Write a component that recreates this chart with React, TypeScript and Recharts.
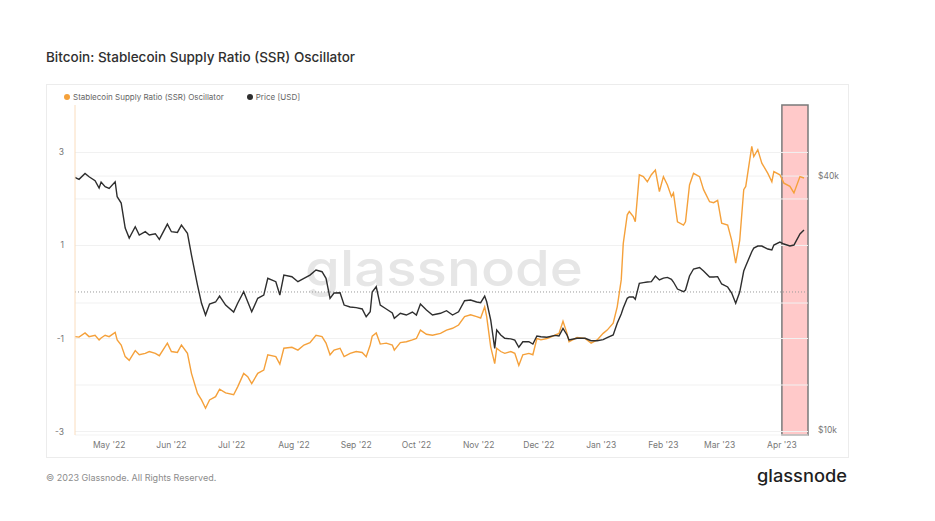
import React from 'react';
import { LineChart, Line, XAxis, YAxis, ReferenceLine, ReferenceArea } from 'recharts';

const START = Date.UTC(2022, 3, 14);
const DAY = 86400000;

// sample days, counted from 14 Apr 2022
const dayOffsets = [
  0, 2, 5, 7, 10, 12, 13, 15, 17, 20,
  21, 23, 25, 27, 30, 32, 35, 37, 40, 42,
  46, 48, 51, 53, 56, 58, 61, 63, 65, 67,
  70, 72, 75, 79, 81, 84, 86, 88, 91, 94,
  96, 100, 102, 104, 108, 111, 114, 117, 120, 123,
  125, 127, 129, 132, 134, 137, 140, 143, 145, 147,
  148, 150, 152, 155, 158, 159, 162, 165, 168, 170,
  172, 175, 178, 182, 185, 188, 191, 194, 197, 200,
  202, 204, 205, 207, 209, 210, 212, 214, 217, 219,
  221, 223, 226, 228, 230, 232, 235, 239, 241, 243,
  245, 246, 250, 254, 257, 260, 263, 265, 268, 270,
  272, 273, 275, 276, 278, 279, 281, 283, 285, 287,
  289, 291, 293, 295, 297, 298, 300, 303, 304, 306,
  308, 311, 313, 316, 318, 320, 322, 325, 327, 329,
  331, 333, 334, 337, 338, 340, 342, 345, 347, 348,
  351, 353, 356, 358, 361, 363,
];

const ssrValues = [
  -0.96, -0.97, -0.88, -0.96, -0.93, -1.03, -0.99, -0.93, -0.96, -0.87,
  -1.03, -1.14, -1.39, -1.47, -1.26, -1.35, -1.32, -1.28, -1.32, -1.37,
  -1.10, -1.28, -1.30, -1.14, -1.32, -1.75, -2.18, -2.32, -2.50, -2.32,
  -2.25, -2.09, -2.17, -2.21, -2.04, -1.75, -1.82, -1.97, -1.75, -1.68,
  -1.35, -1.39, -1.55, -1.21, -1.19, -1.25, -1.14, -1.09, -0.93, -0.96,
  -1.10, -1.35, -1.25, -1.21, -1.39, -1.32, -1.28, -1.30, -1.39, -1.14,
  -0.95, -0.88, -1.12, -1.10, -1.14, -1.25, -1.09, -1.07, -1.03, -1.00,
  -0.82, -0.91, -0.93, -0.89, -0.82, -0.78, -0.71, -0.53, -0.49, -0.53,
  -0.56, -0.32, -0.53, -1.18, -1.54, -1.21, -1.28, -1.32, -1.28, -1.32,
  -1.58, -1.35, -1.32, -1.35, -1.00, -1.03, -1.00, -0.93, -0.89, -0.63,
  -0.89, -1.07, -0.98, -1.00, -1.10, -1.03, -0.89, -0.82, -0.67, -0.32,
  0.26, 1.04, 1.66, 1.73, 1.62, 1.51, 2.52, 2.48, 2.37, 2.52,
  2.62, 2.16, 2.48, 2.30, 2.05, 2.13, 1.51, 1.44, 1.51, 2.30,
  2.55, 2.48, 2.20, 1.94, 1.92, 1.97, 1.48, 1.44, 1.11, 0.62,
  1.11, 2.20, 2.27, 3.13, 2.91, 3.06, 2.77, 2.55, 2.37, 2.59,
  2.52, 2.34, 2.27, 2.13, 2.48, 2.45,
];

const priceValues = [
  39700, 39290, 40590, 39850, 38990, 37460, 38710, 37730, 37400, 38780,
  35730, 34520, 30120, 28520, 30330, 28990, 29520, 28990, 29200, 28320,
  30780, 29520, 29400, 30610, 29260, 25990, 22060, 19970, 18730, 19890,
  20110, 20780, 19780, 19040, 19970, 21270, 20140, 19070, 20520, 20890,
  22890, 22470, 20890, 23300, 23090, 22470, 22890, 23300, 23950, 23730,
  22890, 20520, 21120, 21150, 19780, 19570, 19500, 19360, 18560, 19070,
  21240, 21860, 19780, 19360, 18940, 18400, 18910, 18730, 19040, 18730,
  19890, 19250, 18730, 18910, 19180, 18730, 19070, 20250, 20330, 20110,
  20040, 20780, 20140, 18230, 15620, 17260, 16800, 16500, 16440, 16340,
  15710, 16190, 16190, 15990, 16700, 16640, 16590, 16760, 16700, 17420,
  16800, 16340, 16500, 16500, 16280, 16280, 16380, 16550, 16800, 17900,
  18840, 19460, 20520, 20670, 20670, 20410, 22270, 22350, 22430, 22470,
  23180, 22680, 22920, 23000, 22770, 22430, 21590, 21270, 21470, 23180,
  24080, 24280, 23820, 23060, 23060, 23100, 22190, 21830, 21120, 19970,
  21240, 23820, 24480, 26460, 27000, 27300, 27300, 26860, 26710, 27450,
  27900, 27600, 27300, 27450, 29150, 29790,
];

const monthTicks = [
  '2022-05-01', '2022-06-01', '2022-07-01', '2022-08-01', '2022-09-01', '2022-10-01',
  '2022-11-01', '2022-12-01', '2023-01-01', '2023-02-01', '2023-03-01', '2023-04-01',
];
const monthLabels = [
  "May '22", "Jun '22", "Jul '22", "Aug '22", "Sep '22", "Oct '22",
  "Nov '22", "Dec '22", "Jan '23", "Feb '23", "Mar '23", "Apr '23",
];

const ssrTicks = [-3, -1, 1, 3];
const ssrGrid = [-3, -2, -1, 1, 2, 3];
const priceTicks = [10000, 40000];
const priceGrid = [20000, 40000];

// highlighted window: 1 Apr 2023 to 14 Apr 2023
const highlightFrom = '2023-04-01';
const highlightTo = '2023-04-14';

const data = dayOffsets.map((d, i) => ({
  t: START + d * DAY,
  ssr: ssrValues[i],
  price: priceValues[i],
}));

const tickTimes = monthTicks.map((s) => Date.parse(s));
const labelFor = (v: number) => monthLabels[tickTimes.indexOf(v)] ?? '';

const ORANGE = '#F5A13B';
const DARK = '#2E2E2E';
const FONT = 'Inter, "Noto Sans", sans-serif';

export default function App() {
  return (
    <div
      style={{
        position: 'absolute',
        left: 0,
        top: 0,
        width: 935,
        height: 521,
        background: '#fff',
        overflow: 'hidden',
        fontFamily: FONT,
      }}
    >
      <div
        style={{
          position: 'absolute',
          left: 46,
          top: 49,
          fontSize: 13.5,
          fontWeight: 500,
          color: '#303030',
          whiteSpace: 'nowrap',
        }}
      >
        Bitcoin: Stablecoin Supply Ratio (SSR) Oscillator
      </div>

      <div
        style={{
          position: 'absolute',
          left: 46,
          top: 84,
          width: 801,
          height: 372,
          border: '1px solid #ECECEC',
        }}
      />

      <svg style={{ position: 'absolute', left: 0, top: 0 }} width={935} height={521}>
        <text
          x={305}
          y={286}
          fontSize={50}
          fontWeight={500}
          fill="#E6E6E6"
          fontFamily={FONT}
          textLength={278}
          lengthAdjust="spacingAndGlyphs"
        >
          glassnode
        </text>
      </svg>

      <div style={{ position: 'absolute', left: 0, top: 0 }}>
        <LineChart
          width={935}
          height={521}
          data={data}
          margin={{ top: 105, right: 87, bottom: 61, left: 45 }}
        >
          {ssrGrid.map((v) => (
            <ReferenceLine key={'g' + v} yAxisId="ssr" y={v} stroke="#F1F1F1" strokeWidth={1} />
          ))}
          {priceGrid.map((v) => (
            <ReferenceLine key={'p' + v} yAxisId="price" y={v} stroke="#F1F1F1" strokeWidth={1} />
          ))}
          <ReferenceLine yAxisId="ssr" y={0} stroke="#9A9A9A" strokeDasharray="1 2" strokeWidth={1} />
          <XAxis
            dataKey="t"
            type="number"
            scale="time"
            domain={[START, START + 365 * DAY]}
            ticks={tickTimes}
            tickFormatter={labelFor}
            tick={{ fill: '#777', fontSize: 8.5, fontFamily: FONT }}
            tickLine={false}
            tickMargin={1}
            axisLine={{ stroke: '#F3F3F3' }}
            height={25}
            allowDataOverflow
          />
          <YAxis
            yAxisId="ssr"
            orientation="left"
            domain={[-3.075, 4.02]}
            ticks={ssrTicks}
            allowDataOverflow
            width={30}
            tick={{ fill: '#777', fontSize: 8.5, fontFamily: FONT }}
            tickLine={false}
            tickMargin={5}
            axisLine={{ stroke: '#FADDBE' }}
          />
          <YAxis
            yAxisId="price"
            orientation="right"
            scale="log"
            domain={[9730, 58960]}
            ticks={priceTicks}
            allowDataOverflow
            width={40}
            tick={{ fill: '#777', fontSize: 8.5, fontFamily: FONT }}
            tickFormatter={(v) => `$${v / 1000}k`}
            tickLine={false}
            tickMargin={4}
            axisLine={false}
          />
          <Line
            yAxisId="ssr"
            type="linear"
            dataKey="ssr"
            stroke={ORANGE}
            strokeWidth={1.4}
            dot={false}
            isAnimationActive={false}
          />
          <Line
            yAxisId="price"
            type="linear"
            dataKey="price"
            stroke={DARK}
            strokeWidth={1.4}
            dot={false}
            isAnimationActive={false}
          />
          <ReferenceArea
            yAxisId="ssr"
            x1={Date.parse(highlightFrom)}
            x2={Date.parse(highlightTo)}
            fill="#FF6A6A"
            fillOpacity={0.36}
            stroke="#7A7A7A"
            strokeWidth={1.5}
          />
        </LineChart>
      </div>

      <div
        style={{
          position: 'absolute',
          left: 64,
          top: 92,
          display: 'flex',
          alignItems: 'center',
          fontSize: 8,
          color: '#666',
          whiteSpace: 'nowrap',
        }}
      >
        <span style={{ width: 6, height: 6, borderRadius: 3, background: ORANGE, marginRight: 3 }} />
        <span>Stablecoin Supply Ratio (SSR) Oscillator</span>
        <span
          style={{ width: 6, height: 6, borderRadius: 3, background: DARK, marginLeft: 23, marginRight: 3 }}
        />
        <span>Price [USD]</span>
      </div>

      <div
        style={{
          position: 'absolute',
          left: 46,
          top: 472,
          fontSize: 9,
          color: '#8C8C8C',
          whiteSpace: 'nowrap',
        }}
      >
        © 2023 Glassnode. All Rights Reserved.
      </div>
      <svg style={{ position: 'absolute', left: 0, top: 0, pointerEvents: 'none' }} width={935} height={521}>
        <text
          x={757}
          y={482}
          fontSize={17}
          fontWeight={500}
          fill="#1E1E1E"
          fontFamily={FONT}
          textLength={90}
          lengthAdjust="spacingAndGlyphs"
        >
          glassnode
        </text>
      </svg>
    </div>
  );
}
